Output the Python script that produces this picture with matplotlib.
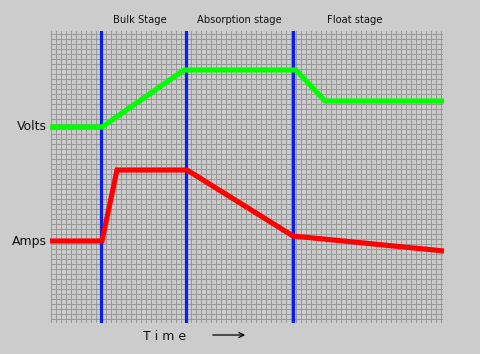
import numpy as np
import matplotlib
matplotlib.use("Agg")
import matplotlib.pyplot as plt

# Data (time units along x, level along y; axes span 0..392 x 0..292)
volts_t = [-1, 51, 133, 245, 274, 393]
volts_v = [196, 196, 253, 253, 222, 222]
amps_t = [-1, 51, 66, 136, 242, 393]
amps_v = [82, 82, 153, 153, 87, 72]
stage_bounds = [50, 135, 242]
stage_labels = ["Bulk Stage", "Absorption stage", "Float stage"]
stage_label_x = [89, 188, 304]
series_labels = ["Volts", "Amps"]
series_label_y = [196, 82]

W, H = 480, 354
fig = plt.figure(figsize=(W / 100, H / 100), dpi=100, facecolor="#cccccc")
L, T, R, B = 51, 31, 443, 323
ax = fig.add_axes([L / W, (H - B) / H, (R - L) / W, (B - T) / H])
ax.set_facecolor("#cccccc")
ax.set_xlim(0, R - L)
ax.set_ylim(0, B - T)
for s in ax.spines.values():
    s.set_visible(False)
ax.set_xticks(np.arange(0, 391, 5))
ax.set_yticks(np.arange(4, 290, 5))
ax.tick_params(length=0, labelbottom=False, labelleft=False)
ax.grid(True, color="#999999", linewidth=0.75)
ax.set_axisbelow(True)

for xb in stage_bounds:
    ax.axvline(xb, color="#0a1ef0", linewidth=2.3, zorder=3)

ax.plot(volts_t, volts_v, color="#00ff00", linewidth=3.7, solid_joinstyle="miter",
        solid_capstyle="butt", zorder=4, clip_on=False)
ax.plot(amps_t, amps_v, color="#ff0000", linewidth=3.7, solid_joinstyle="miter",
        solid_capstyle="butt", zorder=4, clip_on=False)

for lab, lx in zip(stage_labels, stage_label_x):
    ax.text(lx, (B - T) + 11, lab, ha="center", va="center", fontsize=7.2,
            color="#111111", clip_on=False)
for lab, ly in zip(series_labels, series_label_y):
    ax.text(-4, ly, lab, ha="right", va="center", fontsize=9.0,
            color="#111111", clip_on=False)

fig.text(165 / W, 1 - 336 / H, "T i m e", ha="center", va="center",
         fontsize=9.0, color="#111111")
fig.add_artist(matplotlib.patches.FancyArrowPatch(
    (210 / W, 1 - 335 / H), (248 / W, 1 - 335 / H), transform=fig.transFigure,
    arrowstyle="->", mutation_scale=9, color="black", linewidth=0.9))

fig.savefig("out.png", dpi=100, facecolor=fig.get_facecolor())
